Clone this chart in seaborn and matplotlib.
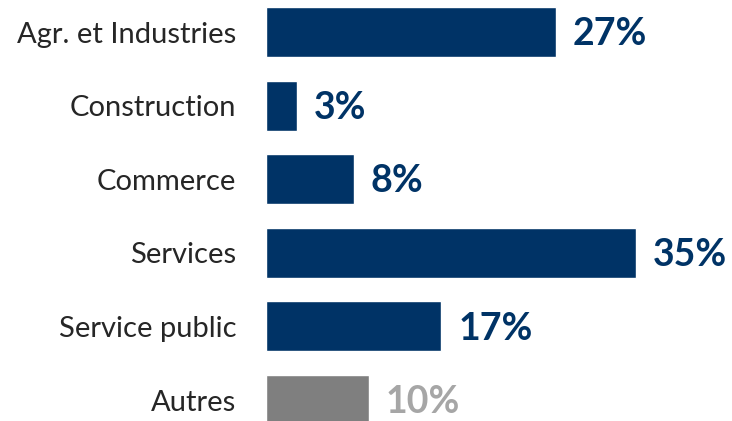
import pandas as pd
import matplotlib
matplotlib.use("Agg")
import matplotlib.pyplot as plt
import seaborn as sns

sns.set_style("white")
plt.rcParams['font.family'] = ['Lato', 'DejaVu Sans']

# donnees (longueurs, etiquettes arrondies)
categories = ["Agr. et Industries", "Construction", "Commerce", "Services", "Service public", "Autres"]
values = [27.4, 2.9, 8.3, 35.0, 16.6, 9.7]
labels = ["27%", "3%", "8%", "35%", "17%", "10%"]
bar_colors = ["#003366", "#003366", "#003366", "#003366", "#003366", "#7F7F7F"]
label_colors = ["#003366", "#003366", "#003366", "#003366", "#003366", "#A6A6A6"]

df = pd.DataFrame({"cat": categories, "val": values})

fig = plt.figure(figsize=(7.32, 4.21), dpi=100)
ax = fig.add_axes([266 / 732, 0, 1 - 266 / 732, 1])

sns.barplot(data=df, x="val", y="cat", hue="cat", palette=bar_colors,
            orient="h", width=0.68, legend=False, saturation=1, ax=ax)

for i, v in enumerate(values):
    ax.text(v + 1.6, i + 0.03, labels[i], va="center", ha="left",
            fontsize=27, fontweight="bold", color=label_colors[i])

ax.set_xlim(0, 466 / 10.57)
ax.set_ylim(5.285, -0.435)
ax.set_xlabel("")
ax.set_ylabel("")
ax.set_xticks([])
ax.tick_params(axis="y", length=0, pad=21.5, labelsize=21, labelcolor="#262626")
sns.despine(left=True, bottom=True)

fig.savefig("out.png", dpi=100)
